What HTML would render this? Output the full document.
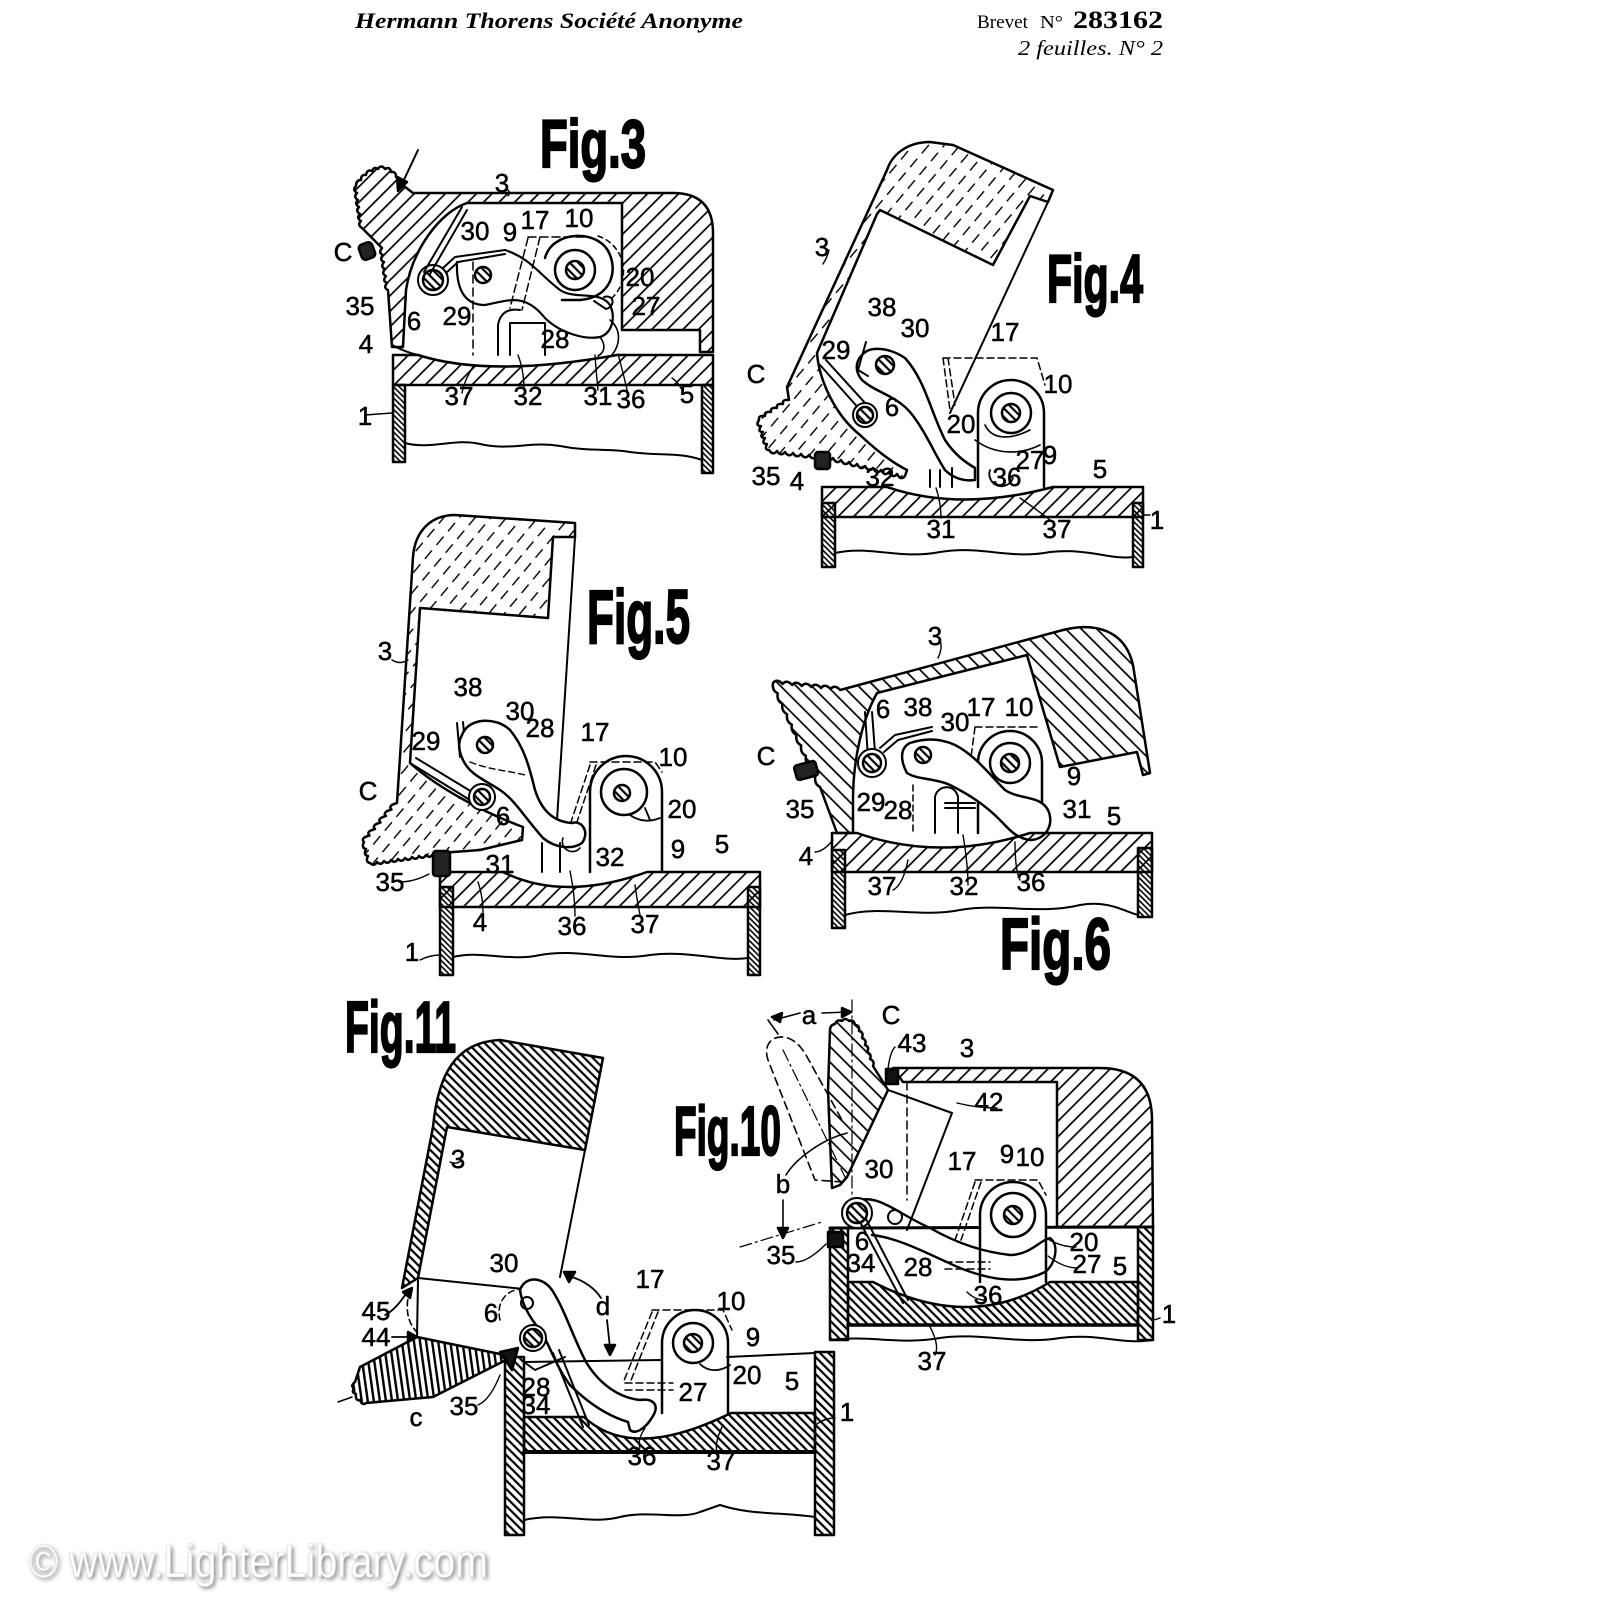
<!DOCTYPE html>
<html><head><meta charset="utf-8">
<style>
html,body{margin:0;padding:0;background:#fff;}
svg{display:block}
.lb{font-family:"Liberation Sans Narrow","Liberation Sans",sans-serif;font-size:26px;fill:#000;stroke:#000;stroke-width:0.5;text-anchor:middle}
.fig{font-family:"Liberation Sans",sans-serif;font-weight:bold;fill:#000;stroke:#000;stroke-width:2.2}
</style></head><body>
<svg width="1600" height="1600" viewBox="0 0 1600 1600" xmlns="http://www.w3.org/2000/svg">
<defs>
<pattern id="hs" width="11" height="11" patternUnits="userSpaceOnUse" patternTransform="rotate(45)"><rect width="1.7" height="11" fill="#000"/></pattern>
<pattern id="hb" width="11" height="11" patternUnits="userSpaceOnUse" patternTransform="rotate(-45)"><rect width="1.7" height="11" fill="#000"/></pattern>
<pattern id="hd" width="6" height="6" patternUnits="userSpaceOnUse" patternTransform="rotate(-45)"><rect width="2.2" height="6" fill="#000"/></pattern>
<pattern id="hf" width="7" height="7" patternUnits="userSpaceOnUse" patternTransform="rotate(45)"><rect width="2" height="7" fill="#000"/></pattern>
<pattern id="hw" width="4" height="4" patternUnits="userSpaceOnUse" patternTransform="rotate(-45)"><rect width="1.6" height="4" fill="#000"/></pattern>
<pattern id="hv" width="6" height="6" patternUnits="userSpaceOnUse" patternTransform="rotate(-8)"><rect width="2.4" height="6" fill="#000"/></pattern>
<pattern id="hx" width="12" height="18" patternUnits="userSpaceOnUse" patternTransform="rotate(40)"><rect width="1.4" height="11" fill="#000"/></pattern>
<filter id="blur"><feGaussianBlur stdDeviation="2"/></filter>
</defs>

<!-- HEADER -->
<text x="355" y="28" font-family="Liberation Serif,serif" font-style="italic" font-weight="bold" font-size="22" textLength="388" lengthAdjust="spacingAndGlyphs">Hermann Thorens Société Anonyme</text>
<text x="977" y="28" font-family="Liberation Serif,serif" font-size="19" textLength="51" lengthAdjust="spacingAndGlyphs">Brevet</text>
<text x="1040" y="28" font-family="Liberation Serif,serif" font-size="18" textLength="23" lengthAdjust="spacingAndGlyphs">N°</text>
<text x="1073" y="28" font-family="Liberation Serif,serif" font-weight="bold" font-size="25" textLength="90" lengthAdjust="spacingAndGlyphs">283162</text>
<text x="1018" y="55" font-family="Liberation Serif,serif" font-style="italic" font-size="21" textLength="145" lengthAdjust="spacingAndGlyphs">2 feuilles.  N° 2</text>

<!-- FIG TITLES -->
<text class="fig" x="540" y="167" font-size="68" textLength="106" lengthAdjust="spacingAndGlyphs">Fig.3</text>
<text class="fig" x="1047" y="302" font-size="68" textLength="96" lengthAdjust="spacingAndGlyphs">Fig.4</text>
<text class="fig" x="587" y="643" font-size="76" textLength="103" lengthAdjust="spacingAndGlyphs">Fig.5</text>
<text class="fig" x="1000" y="969" font-size="72" textLength="111" lengthAdjust="spacingAndGlyphs">Fig.6</text>
<text class="fig" x="345" y="1052" font-size="72" textLength="111" lengthAdjust="spacingAndGlyphs">Fig.11</text>
<text class="fig" x="674" y="1155" font-size="70" textLength="107" lengthAdjust="spacingAndGlyphs">Fig.10</text>

<g fill="none" stroke="#000" stroke-width="2.5" stroke-linejoin="round" stroke-linecap="round">

<!-- ================= FIG 3 ================= -->
<path fill="url(#hs)" d="M392,347 L388,290 q-5,-2 -1,-7 q-5,-2 -1,-7 q-5,-2 -1,-7 q-5,-2 -1,-7 q-5,-2 -1,-7 q-5,-2 -1,-7 L362,228 q-5,-3 -1,-7 q-5,-3 -1,-7 q-5,-3 -1,-7 q-5,-3 -1,-7 q-5,-3 -1,-7 q-5,-3 -1,-7 q0,-6 5,-6 q0,-6 5,-5 q1,-6 6,-4 q2,-5 6,-2 q3,-5 7,0 q5,-3 6,3 q5,-1 5,5 q5,0 4,6 L413,193 L673,193 Q713,193 713,233 L713,352 L700,352 L700,330 L622,330 L622,203 L467,203 C440,212 412,250 406,290 L403,347 Z"/>
<path fill="url(#hs)" d="M393,355 L418,355 Q490,378 617,355 L713,355 L713,385 L393,385 Z"/>
<path d="M392,345 Q405,352 418,355" stroke-width="2"/>
<rect x="393" y="385" width="12" height="77" fill="url(#hw)"/>
<rect x="702" y="385" width="11" height="88" fill="url(#hw)"/>
<path d="M405,443 C430,450 455,438 480,444 C510,451 530,441 560,446 C590,452 610,448 630,452 C660,456 680,452 702,460" stroke-width="2"/>
<path d="M462,207 L424,272 M467,210 L430,274" stroke-width="2"/>
<circle cx="433" cy="280" r="15" stroke-width="2"/>
<circle cx="433" cy="280" r="10" fill="url(#hd)"/>
<path d="M443,268 L455,257 L505,250 M446,273 L458,262 L505,254" stroke-width="2"/>
<circle cx="483" cy="275" r="8" fill="url(#hd)"/>
<path d="M457,262 C456,290 465,305 485,305 C510,300 525,293 545,318 C560,333 585,340 600,337 C612,333 616,318 610,305 C600,290 575,300 560,290 C540,275 530,258 505,250" stroke-width="2.2"/>
<circle cx="575" cy="270" r="20"/>
<circle cx="575" cy="270" r="9" fill="url(#hd)"/>
<path d="M545,258 C552,230 600,228 610,255 C618,275 608,298 580,300 L562,300"/>
<path d="M598,236 A37,37 0 0 1 612,298" stroke-dasharray="5 4" stroke-width="1.5"/>
<path d="M604,297 C614,294 616,306 606,309 L594,301" stroke-width="2"/>
<path d="M528,237 L585,237 M528,238 L510,308 M540,237 L522,310" stroke-dasharray="8 4" stroke-width="1.5"/>
<path d="M473,262 L473,355" stroke-dasharray="8 5" stroke-width="1.5"/>
<path d="M498,355 L498,325 C500,313 508,308 520,310 M510,355 L510,323 L545,323 L545,355" stroke-width="2"/>
<path d="M600,337 C606,345 605,352 598,356 M610,320 C622,330 620,345 612,355" stroke-width="1.6"/>
<rect x="360" y="243" width="14" height="16" rx="4" fill="#222" transform="rotate(-20 367 251)"/>
<path d="M418,150 L402,184" stroke-width="2"/>
<path d="M398,191 L397,177 L407,182 Z" fill="#000"/>
<path d="M508,196 q3,-3 0,-6 M365,415 L392,413 M462,393 q2,-12 12,-28 M524,390 q0,-20 -6,-35 M598,390 q-2,-20 -3,-35 M628,394 q-4,-18 -10,-40 M682,390 q-4,-8 -10,-12" stroke-width="1.4"/>

<!-- ================= FIG 4 ================= -->
<path fill="url(#hx)" d="M787,387 L887,170 C893,152 910,142 930,142 L953,145 L1053,190 L1048,202 L1030,196 L993,265 L880,210 L877,214 L817,353 C819,380 835,415 860,435 C878,452 895,464 907,470 L905,476 q-4,5 -8,-2 q-4,5 -8,-2 q-4,5 -8,-2 q-4,5 -8,-2 q-4,5 -8,-2 q-4,5 -8,-2 q-4,5 -8,-2 q-4,5 -8,-2 q-4,5 -8,-2 q-4,5 -8,-1 q-4,5 -8,-1 q-4,5 -8,-1 q-4,5 -8,-1 q-4,5 -8,-1 q-4,5 -8,-1 q-4,5 -8,-1 q-4,5 -8,-1 q-5,0 -2,-6 q-6,0 -2,-6 q-6,0 -2,-6 q-6,0 -2,-6 q-6,0 -2,-6 q-1,-5 6,-4 q-1,-5 6,-4 q-1,-5 6,-4 q-1,-5 6,-4 q-1,-5 6,-4 Z"/>
<path d="M1048,202 L950,413" stroke-width="2"/>
<path d="M978,487 L978,413 A33,33 0 0 1 1044,413 L1044,487"/>
<circle cx="1011" cy="413" r="20"/>
<circle cx="1011" cy="413" r="9" fill="url(#hd)"/>
<path d="M985,425 C992,440 1010,440 1030,430 M975,440 C995,455 1020,455 1040,445" stroke-width="1.6"/>
<path d="M943,358 L1037,358 L1045,385 M943,358 L950,410 M948,358 L955,405" stroke-dasharray="7 4" stroke-width="1.5"/>
<path fill="#fff" d="M862,355 C870,345 890,348 905,358 C925,380 930,410 945,440 C955,455 965,462 975,468 L975,480 C960,482 950,475 945,470 C935,455 925,430 910,412 C895,395 875,392 862,380 C855,372 855,362 862,355 Z"/>
<circle cx="885" cy="365" r="9" fill="url(#hd)"/>
<path d="M820,365 L862,412 M826,360 L866,404" stroke-width="2"/>
<path d="M866,342 L858,370 L868,376" stroke-width="2"/>
<circle cx="865" cy="415" r="12" fill="#fff" stroke-width="2"/>
<circle cx="865" cy="415" r="8" fill="url(#hd)"/>
<path d="M930,470 L930,487 M940,470 L940,487 M952,468 L952,487" stroke-width="2"/>
<path d="M990,470 A12,12 0 0 0 1013,478" stroke-width="1.8"/>
<path fill="url(#hs)" d="M822,487 L887,487 Q960,512 1053,487 L1143,487 L1143,517 L822,517 Z"/>
<rect x="822" y="503" width="13" height="64" fill="url(#hw)"/>
<rect x="1133" y="503" width="10" height="64" fill="url(#hw)"/>
<path d="M835,553 C870,545 900,560 940,552 C980,545 1010,560 1050,552 C1090,548 1110,560 1133,557" stroke-width="2"/>
<rect x="815" y="452" width="15" height="17" rx="3" fill="#222"/>
<path d="M829,250 q-2,8 -6,14 M941,518 q0,-15 -5,-30 M1050,520 q-10,-8 -30,-22 M1150,515 q-3,0 -7,0" stroke-width="1.4"/>

<!-- ================= FIG 5 ================= -->
<path fill="url(#hx)" d="M397,803 L413,557 C415,530 432,515 455,515 L575,523 L575,537 L553,537 L548,618 L420,608 L410,763 C440,790 490,815 523,827 L522,840 L480,850 L440,853 q-3,5 -7,1 q-3,5 -7,1 q-3,5 -7,1 q-3,5 -7,1 q-3,5 -7,1 q-3,5 -7,1 q-3,5 -7,1 q-3,5 -7,1 q-3,5 -7,1 q-3,5 -7,1 q-5,-1 -2,-7 q-5,-1 -2,-7 q-5,-1 -2,-7 q-4,-4 5.5,-6.5 q-4,-4 5.5,-6.5 q-4,-4 5.5,-6.5 q-4,-4 5.5,-6.5 q-4,-4 5.5,-6.5 q-4,-4 5.5,-6.5 Z"/>
<path d="M575,537 L557,820" stroke-width="2"/>
<path d="M590,872 L590,792 A36,36 0 0 1 662,792 L662,872"/>
<circle cx="624" cy="792" r="23"/>
<circle cx="622" cy="793" r="8" fill="url(#hd)"/>
<path d="M630,815 C640,822 650,822 660,818 M645,808 L650,820" stroke-width="1.8"/>
<path d="M590,762 L655,762 L662,772 M590,765 L570,825 M596,765 L576,825" stroke-dasharray="7 4" stroke-width="1.5"/>
<path d="M457,723 L460,757 M463,722 L466,755" stroke-width="2"/>
<path d="M410,763 L478,805 M416,758 L482,798" stroke-width="2"/>
<path fill="#fff" d="M462,735 C468,718 495,716 510,730 C525,748 530,770 535,790 C542,812 555,822 572,823 C582,820 590,832 582,843 C572,850 555,848 543,838 C525,818 515,800 500,790 C485,780 470,775 463,760 C458,750 458,742 462,735 Z"/>
<circle cx="485" cy="745" r="8" fill="url(#hd)"/>
<circle cx="482" cy="797" r="13" fill="#fff" stroke-width="2"/>
<circle cx="482" cy="797" r="8" fill="url(#hd)"/>
<path d="M470,762 C490,770 505,770 525,775" stroke-dasharray="6 4" stroke-width="1.4"/>
<path d="M542,843 L542,872 M560,843 L560,872 M590,835 L590,872" stroke-width="2"/>
<path d="M563,838 A10,10 0 0 0 580,848" stroke-width="1.6"/>
<path fill="url(#hs)" d="M440,872 L503,872 Q563,902 647,872 L760,872 L760,907 L440,907 Z"/>
<rect x="440" y="887" width="13" height="88" fill="url(#hw)"/>
<rect x="748" y="887" width="12" height="88" fill="url(#hw)"/>
<path d="M453,957 C480,950 510,962 540,955 C580,948 610,962 650,955 C690,950 720,962 748,958" stroke-width="2"/>
<rect x="433" y="851" width="17" height="25" rx="3" fill="#222"/>
<path d="M392,660 q8,5 16,0 M399,882 q15,0 30,-8 M420,960 q10,-5 20,-5 M483,912 q0,-15 -5,-30 M575,916 q0,-20 -5,-45 M640,915 q-3,-15 -5,-30" stroke-width="1.4"/>

<!-- ================= FIG 6 ================= -->
<path fill="url(#hb)" d="M837,833 L820,787 q-6,-3 -4.7,-10.4 q-6,-3 -4.7,-10.4 q-6,-3 -4.7,-10.4 q-6,-3 -4.7,-10.4 q-6,-3 -4.7,-10.4 q-6,-3 -4.7,-10.4 q-6,-3 -4.7,-10.4 q-6,-3 -4.7,-10.4 q-6,-3 -4.7,-10.4 q-6,-3 -4.7,-10.4 q4,-5 9.6,1 q4,-5 9.6,1 q4,-5 9.6,1 q4,-5 9.6,1 q4,-5 9.6,1 q4,-5 9.6,1 q4,-5 9.6,1 L1063,630 C1095,622 1125,630 1133,665 L1150,773 L1143,775 L1137,752 L1060,767 L1027,655 L877,693 C862,720 853,760 853,800 L853,833 Z"/>
<path d="M978,833 L978,763 A32,32 0 0 1 1042,763 L1042,833"/>
<circle cx="1010" cy="763" r="20"/>
<circle cx="1010" cy="763" r="9" fill="url(#hd)"/>
<path d="M975,727 L1040,727 M975,727 L968,780" stroke-dasharray="7 4" stroke-width="1.5"/>
<path d="M865,712 L868,758 M872,712 L875,752" stroke-width="2"/>
<circle cx="872" cy="763" r="14" fill="#fff" stroke-width="2"/>
<circle cx="872" cy="763" r="9" fill="url(#hd)"/>
<path d="M880,748 L895,735 L932,727 M884,752 L898,740 L932,731" stroke-width="2"/>
<path fill="#fff" d="M907,773 C900,760 900,748 910,743 C925,738 940,738 955,745 C975,755 990,775 1005,790 C1020,800 1040,795 1048,810 C1055,825 1045,840 1030,840 C1015,838 1008,828 1000,820 C985,805 970,795 950,785 C935,778 918,780 907,773 Z"/>
<circle cx="923" cy="755" r="8" fill="url(#hd)"/>
<path d="M935,833 L935,797 C937,785 955,783 958,797 L958,833 M945,803 L975,803 M945,808 L975,808" stroke-width="2"/>
<path d="M913,785 L913,833" stroke-dasharray="6 4" stroke-width="1.5"/>
<path fill="url(#hs)" d="M832,833 L857,833 Q940,862 1030,833 L1152,833 L1152,872 L832,872 Z"/>
<rect x="832" y="850" width="13" height="78" fill="url(#hw)"/>
<rect x="1138" y="848" width="14" height="69" fill="url(#hw)"/>
<path d="M845,915 C880,905 920,918 960,910 C1000,903 1040,915 1080,905 C1110,900 1125,912 1138,915" stroke-width="2"/>
<rect x="795" y="763" width="22" height="15" rx="3" fill="#222" transform="rotate(-15 806 770)"/>
<path d="M940,640 q3,8 -2,18 M815,852 q8,0 18,-12 M893,890 q10,-5 15,-30 M968,885 q0,-20 -5,-50 M1020,880 q-5,-10 -5,-38" stroke-width="1.4"/>

<!-- ================= FIG 11 ================= -->
<path fill="url(#hd)" d="M402,1288 L433,1127 C438,1075 455,1042 500,1040 L603,1058 L585,1150 L447,1127 L418,1278 Z"/>
<path d="M585,1150 L560,1277" stroke-width="2"/>
<path d="M418,1278 L533,1290 M418,1280 L417,1337" stroke-width="2"/>
<path d="M410,1290 C404,1310 408,1325 420,1335" stroke-dasharray="6 4" stroke-width="1.6"/>
<path fill="url(#hv)" d="M360,1367 L417,1337 L500,1354 L506,1360 L433,1397 L366,1403 q-4,3 -6,-3 q-5,1 -4,-6 q-5,-1 -2,-6 q-4,-2 1,-6 Z"/>
<path d="M520,1290 C540,1300 560,1312 566,1330" stroke-dasharray="6 4" stroke-width="1.5"/>
<path d="M500,1320 C495,1300 510,1285 530,1290" stroke-dasharray="6 4" stroke-width="1.5"/>
<path fill="#fff" d="M520,1290 C525,1276 542,1276 552,1290 C565,1310 572,1335 586,1362 C600,1385 620,1398 640,1400 C652,1398 660,1404 653,1416 C646,1428 636,1435 630,1430 L628,1422 C605,1415 585,1400 570,1385 C555,1365 550,1345 540,1330 C530,1318 522,1305 520,1290 Z"/>
<circle cx="527" cy="1303" r="6" stroke-width="2"/>
<circle cx="533" cy="1338" r="13" fill="#fff" stroke-width="2"/>
<circle cx="533" cy="1338" r="9" fill="url(#hd)"/>
<path d="M553,1353 L583,1427 M559,1350 L589,1425" stroke-width="2"/>
<rect x="505" y="1357" width="19" height="178" fill="url(#hd)"/>
<rect x="815" y="1352" width="19" height="183" fill="url(#hd)"/>
<path fill="url(#hd)" d="M524,1417 L584,1417 Q632,1462 731,1413 L815,1413 L815,1452 L524,1452 Z"/>
<path d="M524,1452 L815,1452" stroke-width="4"/>
<path d="M524,1362 L662,1360 M727,1357 L815,1353" stroke-width="2"/>
<path d="M524,1362 L535,1370 L565,1357" stroke-width="2"/>
<path d="M524,1520 C560,1512 590,1525 620,1517 C650,1510 680,1520 700,1512 L720,1505 C750,1515 780,1512 815,1517" stroke-width="2"/>
<path d="M662,1413 L662,1343 A33,33 0 0 1 728,1343 L728,1413"/>
<circle cx="693" cy="1343" r="20"/>
<circle cx="693" cy="1343" r="9" fill="url(#hd)"/>
<path d="M700,1364 C708,1372 720,1372 730,1365" stroke-width="1.8"/>
<path d="M652,1310 L723,1310 L732,1330 M652,1312 L623,1383 M658,1312 L630,1383 M625,1383 L673,1383 M625,1390 L673,1390" stroke-dasharray="7 4" stroke-width="1.5"/>
<path d="M500,1352 L518,1348 L512,1370 Z" fill="#111"/>
<path d="M568,1276 C585,1280 596,1290 601,1298" stroke-width="1.8"/>
<path d="M564,1272 L575,1272 L569,1282 Z" fill="#000"/>
<path d="M607,1320 L610,1348" stroke-width="1.8"/>
<path d="M605,1345 L615,1345 L610,1355 Z" fill="#000"/>
<path d="M385,1315 C395,1310 402,1300 407,1292" stroke-width="1.8"/>
<path d="M403,1292 L412,1288 L410,1298 Z" fill="#000"/>
<path d="M392,1337 L410,1337" stroke-width="1.8"/>
<path d="M408,1332 L417,1337 L408,1342 Z" fill="#000"/>
<path d="M338,1402 L352,1397" stroke-width="1.5"/>
<path d="M462,1160 q-5,5 -12,2 M835,1418 q-10,0 -18,6 M640,1448 q-3,-8 5,-20 M718,1455 q-5,-10 5,-30 M478,1405 q12,-5 22,-30" stroke-width="1.4"/>

<!-- ================= FIG 10 ================= -->
<path fill="url(#hs)" d="M893,1068 L1100,1068 Q1152,1068 1152,1120 L1153,1227 L1057,1227 L1057,1082 L903,1082 Z"/>
<rect x="886" y="1069" width="12" height="15" fill="#111"/>
<path fill="url(#hb)" d="M832,1188 L828,1090 L830,1030 q0,-5 5,-6 q2,-5 7,-3 q3,-4 7,0 q5,-2 6,4 q5,0 4,6 q5,1 3,7 q5,2 3,7 q5,2 2,7 q5,2 3,7 q5,2 3,7 L888,1090 L847,1177 L840,1185 Z"/>
<path d="M888,1090 L952,1113 L907,1230" stroke-width="2"/>
<path d="M907,1082 L907,1200" stroke-dasharray="8 5" stroke-width="1.5"/>
<path d="M843,1182 L815,1180 L768,1060 C763,1045 772,1036 783,1037 C793,1038 800,1045 806,1055 L842,1120" stroke-dasharray="8 5" stroke-width="1.6"/>
<path d="M783,1050 L845,1177" stroke-dasharray="12 4 2 4" stroke-width="1.2"/>
<path d="M852,1000 L852,1200" stroke-dasharray="12 4 2 4" stroke-width="1.2"/>
<path d="M774,1020 L800,1013 M822,1013 L849,1012 M768,1020 L778,1034" stroke-width="1.6"/>
<path d="M772,1017 L782,1013 L780,1022 Z" fill="#000"/>
<path d="M851,1012 L842,1008 L842,1017 Z" fill="#000"/>
<path d="M847,1133 C820,1140 795,1160 786,1175" stroke-width="1.6"/>
<path d="M783,1200 L783,1232" stroke-width="1.6"/>
<path d="M778,1228 L788,1228 L783,1238 Z" fill="#000"/>
<path d="M740,1247 L822,1222" stroke-dasharray="12 4 2 4" stroke-width="1.2"/>
<rect x="830" y="1228" width="18" height="112" fill="url(#hd)"/>
<rect x="1138" y="1227" width="15" height="113" fill="url(#hd)"/>
<path fill="url(#hd)" d="M848,1282 L873,1282 Q970,1332 1050,1282 L1138,1282 L1138,1325 L848,1325 Z"/>
<path d="M830,1228 L1153,1227" stroke-width="3"/>
<path d="M848,1232 L848,1282 M1138,1232 L1138,1282" stroke-width="2"/>
<path d="M848,1325 L1138,1325" stroke-width="3.5"/>
<path d="M830,1340 C870,1335 900,1345 940,1338 C980,1332 1020,1345 1060,1338 C1100,1333 1120,1345 1153,1340" stroke-width="2"/>
<path fill="#fff" d="M980,1282 L980,1215 A33,33 0 0 1 1046,1215 L1046,1282"/>
<circle cx="1013" cy="1215" r="22"/>
<circle cx="1013" cy="1215" r="9" fill="url(#hd)"/>
<path d="M975,1180 L1038,1180 L1046,1195 M975,1182 L955,1240 M981,1182 L961,1240 M945,1262 L990,1262 M945,1269 L990,1269" stroke-dasharray="7 4" stroke-width="1.5"/>
<path d="M860,1200 C880,1195 900,1215 930,1228 C960,1245 985,1252 1010,1255 C1030,1255 1040,1240 1050,1238 C1060,1245 1055,1265 1045,1272 C1020,1285 990,1280 960,1268 C930,1255 900,1238 872,1235" stroke-width="2.4"/>
<circle cx="857" cy="1213" r="15" fill="#fff" stroke-width="2"/>
<circle cx="857" cy="1213" r="10" fill="url(#hd)"/>
<circle cx="895" cy="1217" r="7" stroke-width="2"/>
<path d="M860,1222 L903,1303 M866,1219 L908,1300" stroke-width="2"/>
<rect x="828" y="1232" width="15" height="15" fill="#111"/>
<path d="M895,1047 q-5,5 -7,22 M997,1108 q-20,0 -40,-5 M796,1262 q12,0 30,-18 M1076,1247 q-15,0 -28,-8 M1078,1268 q-15,0 -30,-12 M985,1300 q-10,0 -18,-8 M935,1355 q5,-10 -6,-30 M1160,1318 q-5,2 -7,2" stroke-width="1.4"/>
</g>

<!-- LABELS -->
<g>
<!-- Fig3 -->
<text class="lb" x="502" y="192">3</text>
<text class="lb" x="343" y="261">C</text>
<text class="lb" x="360" y="315">35</text>
<text class="lb" x="414" y="330">6</text>
<text class="lb" x="366" y="353">4</text>
<text class="lb" x="457" y="325">29</text>
<text class="lb" x="475" y="240">30</text>
<text class="lb" x="510" y="241">9</text>
<text class="lb" x="535" y="229">17</text>
<text class="lb" x="579" y="227">10</text>
<text class="lb" x="640" y="286">20</text>
<text class="lb" x="646" y="315">27</text>
<text class="lb" x="555" y="348">28</text>
<text class="lb" x="459" y="405">37</text>
<text class="lb" x="528" y="405">32</text>
<text class="lb" x="598" y="405">31</text>
<text class="lb" x="631" y="408">36</text>
<text class="lb" x="687" y="403">5</text>
<text class="lb" x="365" y="425">1</text>
<!-- Fig4 -->
<text class="lb" x="822" y="256">3</text>
<text class="lb" x="882" y="316">38</text>
<text class="lb" x="915" y="337">30</text>
<text class="lb" x="836" y="359">29</text>
<text class="lb" x="756" y="383">C</text>
<text class="lb" x="892" y="416">6</text>
<text class="lb" x="1005" y="341">17</text>
<text class="lb" x="1058" y="393">10</text>
<text class="lb" x="961" y="433">20</text>
<text class="lb" x="1030" y="469">27</text>
<text class="lb" x="1050" y="464">9</text>
<text class="lb" x="1007" y="486">36</text>
<text class="lb" x="880" y="486">32</text>
<text class="lb" x="766" y="485">35</text>
<text class="lb" x="797" y="490">4</text>
<text class="lb" x="1100" y="478">5</text>
<text class="lb" x="941" y="538">31</text>
<text class="lb" x="1057" y="538">37</text>
<text class="lb" x="1157" y="529">1</text>
<!-- Fig5 -->
<text class="lb" x="385" y="660">3</text>
<text class="lb" x="468" y="696">38</text>
<text class="lb" x="520" y="720">30</text>
<text class="lb" x="540" y="737">28</text>
<text class="lb" x="426" y="750">29</text>
<text class="lb" x="368" y="800">C</text>
<text class="lb" x="503" y="825">6</text>
<text class="lb" x="595" y="741">17</text>
<text class="lb" x="673" y="766">10</text>
<text class="lb" x="682" y="818">20</text>
<text class="lb" x="678" y="858">9</text>
<text class="lb" x="722" y="853">5</text>
<text class="lb" x="500" y="873">31</text>
<text class="lb" x="610" y="866">32</text>
<text class="lb" x="390" y="891">35</text>
<text class="lb" x="480" y="931">4</text>
<text class="lb" x="572" y="935">36</text>
<text class="lb" x="645" y="933">37</text>
<text class="lb" x="412" y="961">1</text>
<!-- Fig6 -->
<text class="lb" x="935" y="645">3</text>
<text class="lb" x="766" y="765">C</text>
<text class="lb" x="883" y="718">6</text>
<text class="lb" x="918" y="716">38</text>
<text class="lb" x="955" y="731">30</text>
<text class="lb" x="981" y="716">17</text>
<text class="lb" x="1019" y="716">10</text>
<text class="lb" x="1074" y="785">9</text>
<text class="lb" x="1077" y="818">31</text>
<text class="lb" x="1114" y="825">5</text>
<text class="lb" x="800" y="818">35</text>
<text class="lb" x="871" y="811">29</text>
<text class="lb" x="898" y="819">28</text>
<text class="lb" x="806" y="865">4</text>
<text class="lb" x="882" y="895">37</text>
<text class="lb" x="964" y="895">32</text>
<text class="lb" x="1031" y="891">36</text>
<!-- Fig11 -->
<text class="lb" x="458" y="1168">3</text>
<text class="lb" x="504" y="1272">30</text>
<text class="lb" x="603" y="1315">d</text>
<text class="lb" x="650" y="1288">17</text>
<text class="lb" x="731" y="1310">10</text>
<text class="lb" x="753" y="1346">9</text>
<text class="lb" x="376" y="1320">45</text>
<text class="lb" x="491" y="1322">6</text>
<text class="lb" x="376" y="1346">44</text>
<text class="lb" x="747" y="1384">20</text>
<text class="lb" x="792" y="1390">5</text>
<text class="lb" x="536" y="1396">28</text>
<text class="lb" x="536" y="1414">34</text>
<text class="lb" x="693" y="1401">27</text>
<text class="lb" x="464" y="1415">35</text>
<text class="lb" x="416" y="1426">c</text>
<text class="lb" x="642" y="1465">36</text>
<text class="lb" x="721" y="1470">37</text>
<text class="lb" x="847" y="1421">1</text>
<!-- Fig10 -->
<text class="lb" x="809" y="1024">a</text>
<text class="lb" x="891" y="1024">C</text>
<text class="lb" x="912" y="1052">43</text>
<text class="lb" x="967" y="1057">3</text>
<text class="lb" x="989" y="1111">42</text>
<text class="lb" x="879" y="1178">30</text>
<text class="lb" x="962" y="1170">17</text>
<text class="lb" x="1007" y="1163">9</text>
<text class="lb" x="1030" y="1166">10</text>
<text class="lb" x="783" y="1193">b</text>
<text class="lb" x="781" y="1264">35</text>
<text class="lb" x="862" y="1250">6</text>
<text class="lb" x="861" y="1272">34</text>
<text class="lb" x="918" y="1276">28</text>
<text class="lb" x="1084" y="1251">20</text>
<text class="lb" x="1087" y="1273">27</text>
<text class="lb" x="1120" y="1275">5</text>
<text class="lb" x="988" y="1304">36</text>
<text class="lb" x="932" y="1370">37</text>
<text class="lb" x="1169" y="1323">1</text>
</g>

<!-- WATERMARK -->
<text x="31" y="1579" font-family="Liberation Sans,sans-serif" font-size="46" fill="#777" filter="url(#blur)" textLength="459" lengthAdjust="spacingAndGlyphs">© www.LighterLibrary.com</text>
<text x="29" y="1577" font-family="Liberation Sans,sans-serif" font-size="46" fill="#fff" stroke="#ddd" stroke-width="0.6" textLength="459" lengthAdjust="spacingAndGlyphs">© www.LighterLibrary.com</text>
</svg>
</body></html>
